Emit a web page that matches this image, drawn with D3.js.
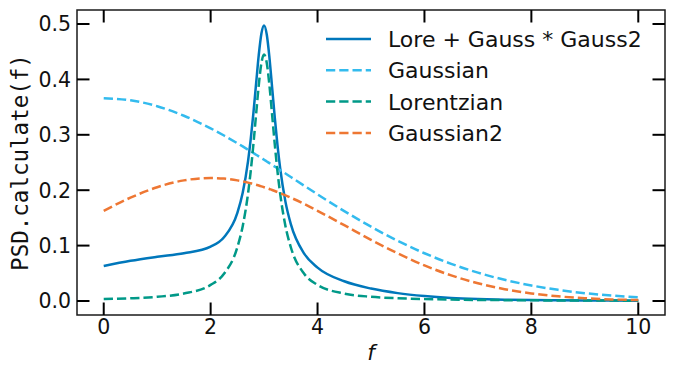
<!DOCTYPE html>
<html>
<head>
<meta charset="utf-8">
<script src="https://cdn.jsdelivr.net/npm/d3@7"></script>
<style>
  html, body { margin: 0; padding: 0; background: #fff; }
  svg { display: block; }
</style>
</head>
<body>
<svg id="chart" width="675" height="375"></svg>
<script>
// Frequencies (x values shared by every series)
const freq = [0, 0.5, 1, 1.5, 2, 2.25, 2.5, 2.6, 2.7, 2.75, 2.8, 2.85, 2.9, 2.95, 3,
  3.05, 3.1, 3.15, 3.2, 3.25, 3.3, 3.4, 3.5, 3.75, 4, 4.5, 5, 5.5, 6, 6.5, 7, 7.5, 8, 8.5, 9, 9.5, 10];

const combined = [0.0630, 0.0725, 0.0798, 0.0862, 0.0982, 0.1151, 0.1590, 0.1953, 0.2526, 0.2920,
  0.3392, 0.3919, 0.4437, 0.4830, 0.4974, 0.4810, 0.4395, 0.3857, 0.3310, 0.2818, 0.2403, 0.1789,
  0.1388, 0.0855, 0.0603, 0.0356, 0.0224, 0.0142, 0.0090, 0.0056, 0.0036, 0.0023, 0.0016, 0.0012,
  0.0009, 0.0008, 0.0006];

const gaussian = [0.3660, 0.3623, 0.3516, 0.3344, 0.3117, 0.2987, 0.2848, 0.2790, 0.2731, 0.2701,
  0.2671, 0.2641, 0.2611, 0.2580, 0.2550, 0.2519, 0.2488, 0.2457, 0.2426, 0.2395, 0.2363, 0.2301,
  0.2238, 0.2081, 0.1925, 0.1623, 0.1341, 0.1086, 0.0862, 0.0671, 0.0511, 0.0382, 0.0280, 0.0201,
  0.0141, 0.0098, 0.0066];

const lorentzian = [0.0034, 0.0049, 0.0076, 0.0134, 0.0290, 0.0491, 0.0970, 0.1351, 0.1942, 0.2346,
  0.2828, 0.3364, 0.3892, 0.4296, 0.4451, 0.4296, 0.3892, 0.3364, 0.2828, 0.2346, 0.1942, 0.1351,
  0.0970, 0.0491, 0.0290, 0.0134, 0.0076, 0.0049, 0.0034, 0.0025, 0.0019, 0.0015, 0.0012, 0.0010,
  0.0009, 0.0007, 0.0006];

const gaussian2 = [0.1628, 0.1865, 0.2054, 0.2177, 0.2220, 0.2209, 0.2177, 0.2159, 0.2137, 0.2125,
  0.2113, 0.2099, 0.2085, 0.2070, 0.2054, 0.2038, 0.2021, 0.2004, 0.1986, 0.1967, 0.1947, 0.1907,
  0.1865, 0.1751, 0.1628, 0.1368, 0.1105, 0.0859, 0.0642, 0.0462, 0.0320, 0.0213, 0.0136, 0.0084,
  0.0050, 0.0028, 0.0016];

const seriesNames = ["Lore + Gauss * Gauss2", "Gaussian", "Lorentzian", "Gaussian2"];
const xTicks = [0, 2, 4, 6, 8, 10];
const yTicks = [0.0, 0.1, 0.2, 0.3, 0.4, 0.5];

const series = [
  { name: seriesNames[0], values: combined, color: "#0077bb", dash: null },
  { name: seriesNames[1], values: gaussian, color: "#33bbee", dash: "9.25,4" },
  { name: seriesNames[2], values: lorentzian, color: "#009988", dash: "9.25,4" },
  { name: seriesNames[3], values: gaussian2, color: "#ee7733", dash: "9.25,4" }
];

const svg = d3.select("#chart");
const L = 77, R = 665, T = 10, B = 315;
const x = d3.scaleLinear().domain([-0.5, 10.5]).range([L, R]);
const y = d3.scaleLinear().domain([-0.0253, 0.5253]).range([B, T]);

const font = "'DejaVu Sans', sans-serif";
const tickLen = 12.5;

svg.append("defs").append("clipPath").attr("id", "clip")
  .append("rect").attr("x", L).attr("y", T).attr("width", R - L).attr("height", B - T);

const line = d3.line().curve(d3.curveMonotoneX);

const plot = svg.append("g").attr("clip-path", "url(#clip)");
series.forEach(s => {
  plot.append("path")
    .attr("d", line(freq.map((f, i) => [x(f), y(s.values[i])])))
    .attr("fill", "none")
    .attr("stroke", s.color)
    .attr("stroke-width", 2.5)
    .attr("stroke-dasharray", s.dash)
    .attr("stroke-linejoin", "round");
});

// frame
svg.append("rect").attr("x", L).attr("y", T).attr("width", R - L).attr("height", B - T)
  .attr("fill", "none").attr("stroke", "#1a1a1a").attr("stroke-width", 1.5);

// ticks (inward, all four sides)
const tg = svg.append("g").attr("stroke", "#000").attr("stroke-width", 2);
xTicks.forEach(t => {
  tg.append("line").attr("x1", x(t)).attr("x2", x(t)).attr("y1", B).attr("y2", B - tickLen);
  tg.append("line").attr("x1", x(t)).attr("x2", x(t)).attr("y1", T).attr("y2", T + tickLen);
});
yTicks.forEach(t => {
  tg.append("line").attr("x1", L).attr("x2", L + tickLen).attr("y1", y(t)).attr("y2", y(t));
  tg.append("line").attr("x1", R).attr("x2", R - tickLen).attr("y1", y(t)).attr("y2", y(t));
});

// tick labels
const fx = d3.format("d"), fy = d3.format(".1f");
xTicks.forEach(t => {
  svg.append("text").attr("x", x(t)).attr("y", B + 18.5)
    .attr("text-anchor", "middle").attr("font-family", font).attr("font-size", 20.5)
    .attr("fill", "#111").text(fx(t));
});
yTicks.forEach(t => {
  svg.append("text").attr("x", L - 6).attr("y", y(t)).attr("dy", "0.36em")
    .attr("text-anchor", "end").attr("font-family", font).attr("font-size", 20.5)
    .attr("fill", "#111").text(fy(t));
});

// axis labels
svg.append("text").attr("x", (L + R) / 2).attr("y", 360)
  .attr("text-anchor", "middle").attr("font-family", font).attr("font-style", "italic")
  .attr("font-size", 21.5).attr("fill", "#111").text("f");
svg.append("text").attr("transform", `translate(28,${(T + B) / 2}) rotate(-90)`)
  .attr("text-anchor", "middle").attr("font-family", "'DejaVu Sans Mono', monospace")
  .attr("font-size", 22.5).attr("fill", "#111").text("PSD.calculate(f)");

// legend
const lg = svg.append("g");
series.forEach((s, i) => {
  const yy = 39 + i * 31.3;
  lg.append("line").attr("x1", 326).attr("x2", 371).attr("y1", yy).attr("y2", yy)
    .attr("stroke", s.color).attr("stroke-width", 2.5).attr("stroke-dasharray", s.dash);
  lg.append("text").attr("x", 388).attr("y", yy).attr("dy", "0.36em")
    .attr("font-family", font).attr("font-size", 22).attr("fill", "#111").text(s.name);
});
</script>
</body>
</html>
